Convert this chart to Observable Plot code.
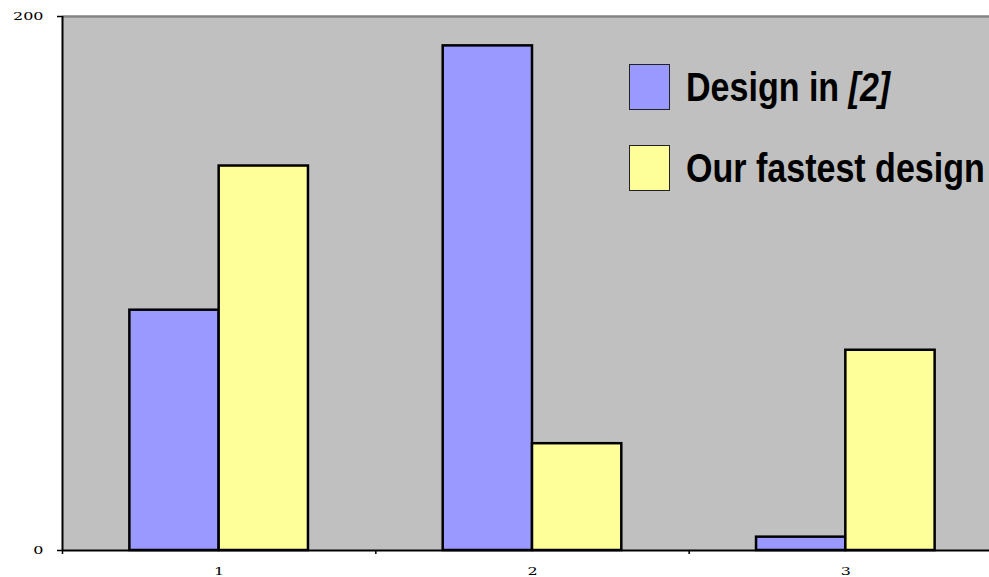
<!DOCTYPE html>
<html>
<head>
<meta charset="utf-8">
<script src="https://cdn.jsdelivr.net/npm/d3@7"></script>
<script src="https://cdn.jsdelivr.net/npm/@observablehq/plot@0.6"></script>
<style>
  html, body { margin: 0; padding: 0; background: #fff; overflow: hidden; }
  #wrap { position: relative; width: 989px; height: 577px; }
  #wrap svg { display: block; }
  .legend {
    position: absolute; left: 629px; top: 64px;
    font-family: "Liberation Sans Narrow", "Arial Narrow", "Liberation Sans", Arial, sans-serif;
    font-weight: bold; font-size: 41px; color: #000;
  }
  .legend .row { display: flex; align-items: center; height: 46px; margin-bottom: 35px; white-space: nowrap; }
  .legend .sw { width: 41px; height: 46px; box-sizing: border-box; border: 1.5px solid #222; flex: none; }
  .legend .lab {
    margin-left: 16px; line-height: 46px; display: inline-block;
    transform: scaleX(0.83); transform-origin: left center;
  }
</style>
</head>
<body>
<div id="wrap"></div>
<script>
// Categories along the x axis and the two measured series
const categories = [1, 2, 3];
const designIn2 = [90, 189, 5];
const ourFastest = [144, 40, 75];
const seriesNames = ["Design in [2]", "Our fastest design"];
const seriesColors = ["#9999ff", "#ffff99"];
const yTicks = [0, 200];

// Half a group: each bar spans this many category units on its side of the centre
const barSpan = 0.285;

const rows = categories.flatMap((c, i) => [
  { cat: c, series: seriesNames[0], value: designIn2[i], side: -1 },
  { cat: c, series: seriesNames[1], value: ourFastest[i], side: 1 }
]);

const boundaries = [categories[0] - 0.5, ...categories.map(c => c + 0.5)];

const tickFont = { fontFamily: "DejaVu Serif, serif", fontSize: 11 };

const chart = Plot.plot({
  width: 989,
  height: 577,
  marginLeft: 62,
  marginRight: -13,
  marginTop: 16,
  marginBottom: 27,
  x: { type: "linear", domain: [categories[0] - 0.5, categories[categories.length - 1] + 0.5] },
  y: { domain: [0, 200] },
  color: { domain: seriesNames, range: seriesColors },
  style: { background: "#fff" },
  marks: [
    Plot.frame({ fill: "#c0c0c0" }),
    Plot.ruleY([200], { stroke: "#858585", strokeWidth: 2.5 }),
    Plot.rectY(rows, {
      x1: d => d.side < 0 ? d.cat - barSpan : d.cat,
      x2: d => d.side < 0 ? d.cat : d.cat + barSpan,
      y1: 0,
      y2: "value",
      fill: "series",
      stroke: "#000",
      strokeWidth: 2.5
    }),
    Plot.ruleY([0], { stroke: "#000", strokeWidth: 2 }),
    Plot.ruleX([boundaries[0]], { stroke: "#000", strokeWidth: 2 }),
    Plot.axisY({ ticks: yTicks, tickSize: 5, tickPadding: 14, label: null, tickFormat: d => String(d), stroke: "#000", strokeWidth: 1.5, ...tickFont }),
    Plot.axisX({ ticks: boundaries, tickSize: 4, label: null, tickFormat: () => "", stroke: "#000", strokeWidth: 1.5 }),
    Plot.axisX({ ticks: categories, tickSize: 0, tickPadding: 17, label: null, tickFormat: d => String(d), ...tickFont })
  ]
});

// Tick labels are set in a wide serif face
d3.select(chart)
  .selectAll('g[aria-label="y-axis tick label"] text, g[aria-label="x-axis tick label"] text')
  .attr("transform", function () { return (this.getAttribute("transform") || "") + " scale(1.45,1)"; });

const wrap = document.getElementById("wrap");
wrap.appendChild(chart);

// Legend box inside the plot area
const legend = document.createElement("div");
legend.className = "legend";
seriesNames.forEach((name, i) => {
  const row = document.createElement("div");
  row.className = "row";
  const sw = document.createElement("div");
  sw.className = "sw";
  sw.style.background = seriesColors[i];
  const lab = document.createElement("span");
  lab.className = "lab";
  const m = name.match(/^(.*?)(\[\d+\])$/);
  if (m) {
    lab.appendChild(document.createTextNode(m[1]));
    const it = document.createElement("i");
    it.textContent = m[2];
    lab.appendChild(it);
  } else {
    lab.textContent = name;
  }
  row.appendChild(sw);
  row.appendChild(lab);
  legend.appendChild(row);
});
wrap.appendChild(legend);
</script>
</body>
</html>
